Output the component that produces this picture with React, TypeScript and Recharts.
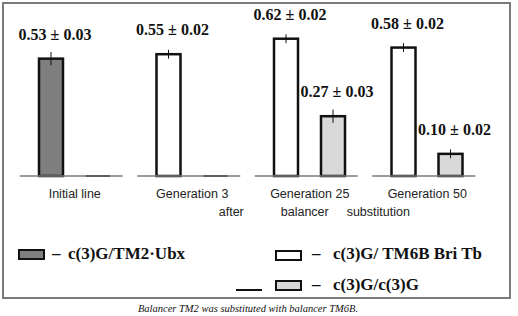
import { BarChart, Bar, XAxis, YAxis, ErrorBar, LabelList, Cell, Legend } from "recharts";

const groups = ["Initial line", "Generation 3", "Generation 25", "Generation 50"];
const subLabels = ["", "after", "balancer", "substitution"];
const balancerValues = [0.53, 0.55, 0.62, 0.58];
const balancerErrors = [0.03, 0.02, 0.02, 0.02];
const homozygoteValues = [0, 0, 0.27, 0.1];
const homozygoteErrors = [0, 0, 0.03, 0.02];
const legendLabels = ["c(3)G/TM2·Ubx", "c(3)G/ TM6B Bri Tb", "c(3)G/c(3)G"];
const caption = "Balancer TM2 was substituted with balancer TM6B.";

const data = groups.map((group, i) => ({
  group,
  bal: balancerValues[i],
  balErr: balancerErrors[i],
  hom: homozygoteValues[i],
  homErr: homozygoteErrors[i],
}));

// where the stray sub-caption words sit, relative to each group's centre
const SUB_DX = [0, 39, -5, -49];
const SUB_DY = 39.5;

const SERIF = '"Liberation Serif", "Times New Roman", serif';
const SANS = '"Liberation Sans", Arial, sans-serif';

const GroupTick = (props: any) => {
  const { x, y, payload, index } = props;
  const sub = subLabels[index];
  return (
    <g>
      <line x1={x - 55} x2={x + 48} y1={y} y2={y} stroke="#7a7a7a" strokeWidth={1.5} />
      <text x={x} y={y + 21.5} textAnchor="middle" fontFamily={SANS} fontSize={12.5} fill="#222">
        {payload.value}
      </text>
      {sub && (
        <text x={x + SUB_DX[index]} y={y + SUB_DY} textAnchor="middle" fontFamily={SANS} fontSize={12.5} fill="#222">
          {sub}
        </text>
      )}
    </g>
  );
};

const BarShape = (props: any) => {
  const { x, y, width, height, fill } = props;
  if (!height) {
    return <line x1={x} x2={x + width} y1={y} y2={y} stroke="#111" strokeWidth={2} />;
  }
  return <rect x={x} y={y} width={width} height={height} fill={fill} stroke="#111" strokeWidth={2.5} />;
};

const valueLabel = (errors: number[]) => (props: any) => {
  const { x, y, width, value, index } = props;
  if (!value) return null;
  return (
    <text x={x + width / 2 + 4} y={y - 19} textAnchor="middle" fontFamily={SERIF} fontWeight="bold" fontSize={16} fill="#111">
      {`${Number(value).toFixed(2)} ± ${errors[index].toFixed(2)}`}
    </text>
  );
};

const swatch = (left: number, top: number, fill: string) => (
  <div
    style={{
      position: "absolute",
      left,
      top,
      width: 27,
      height: 11,
      boxSizing: "border-box",
      border: "2px solid #111",
      background: fill,
    }}
  />
);

const legendText = (left: number, top: number, label: string) => (
  <div
    style={{
      position: "absolute",
      left,
      top,
      lineHeight: "18px",
      whiteSpace: "nowrap",
      fontFamily: SERIF,
      fontWeight: "bold",
      fontSize: 17,
      color: "#111",
    }}
  >
    {label}
  </div>
);

const renderLegend = () => (
  <div style={{ position: "relative", width: 510, height: 70 }}>
    {swatch(18, 23, "#7f7f7f")}
    {legendText(52, 19, "–")}
    {legendText(68, 19, legendLabels[0])}

    {swatch(275, 24, "#ffffff")}
    {legendText(312, 19, "–")}
    {legendText(333, 19, legendLabels[1])}

    <div style={{ position: "absolute", left: 236, top: 63, width: 26, height: 2, background: "#111" }} />
    {swatch(275, 54, "#d9d9d9")}
    {legendText(312, 50, "–")}
    {legendText(333, 50, legendLabels[2])}
  </div>
);

export default function App() {
  return (
    <div style={{ position: "absolute", left: 0, top: 0, width: 518, height: 316, background: "#fff" }}>
      <div
        style={{
          position: "absolute",
          left: 2,
          top: 2,
          width: 509,
          height: 297,
          boxSizing: "border-box",
          border: "2px solid #7a7a7a",
        }}
      />
      <div style={{ position: "absolute", left: 0, top: 0 }}>
        <BarChart
          width={510}
          height={300}
          data={data}
          margin={{ top: 21, right: 24, bottom: 4, left: 16 }}
          barSize={24}
          barGap={23}
        >
          <YAxis hide domain={[0, 0.7]} />
          <XAxis
            dataKey="group"
            axisLine={false}
            tickLine={false}
            tickSize={0}
            tickMargin={0}
            height={50}
            interval={0}
            tick={<GroupTick />}
          />
          <Legend verticalAlign="bottom" content={renderLegend} wrapperStyle={{ left: 0, width: 510 }} />
          <Bar dataKey="bal" shape={<BarShape />} isAnimationActive={false}>
            {data.map((_, i) => (
              <Cell key={i} fill={i === 0 ? "#7f7f7f" : "#ffffff"} />
            ))}
            <ErrorBar dataKey="balErr" width={0} stroke="#111" strokeWidth={1} direction="y" />
            <LabelList dataKey="bal" content={valueLabel(balancerErrors)} />
          </Bar>
          <Bar dataKey="hom" fill="#d9d9d9" shape={<BarShape />} isAnimationActive={false}>
            <ErrorBar dataKey="homErr" width={0} stroke="#111" strokeWidth={1} direction="y" />
            <LabelList dataKey="hom" content={valueLabel(homozygoteErrors)} />
          </Bar>
        </BarChart>
      </div>
      <div
        style={{
          position: "absolute",
          left: 0,
          top: 303,
          width: 496,
          textAlign: "center",
          fontFamily: SERIF,
          fontStyle: "italic",
          fontSize: 10.5,
          lineHeight: "12px",
          color: "#111",
        }}
      >
        {caption}
      </div>
    </div>
  );
}
